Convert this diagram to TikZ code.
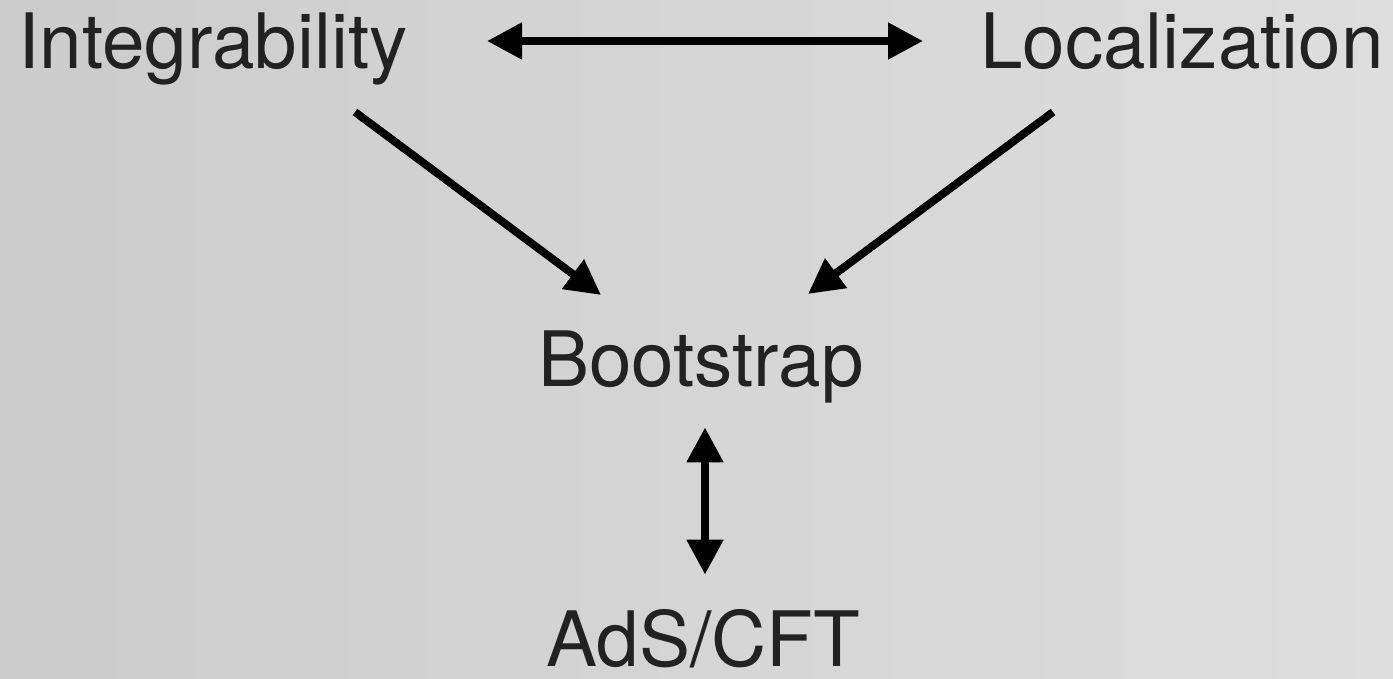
\documentclass[tikz,border=0pt]{standalone}
\usepackage{fontspec}
\setmainfont{TeX Gyre Heros}
\usetikzlibrary{arrows.meta}
\definecolor{BgLight}{RGB}{222,222,222}
\definecolor{BgDark}{RGB}{204,204,204}
\definecolor{InkGray}{RGB}{34,34,34}
\tikzset{
  topic/.style={font=\fontsize{43.5}{50}\selectfont,text=InkGray,
    inner sep=0pt,text height=1.08cm,text depth=0pt},
  arrow/.style={-{Triangle[length=0.7cm,width=0.7cm]},line width=4.5pt,black},
  twoway/.style={{Triangle[length=0.7cm,width=0.7cm]}-{Triangle[length=0.7cm,width=0.7cm]},
    line width=4.5pt,black}
}
\begin{document}
\begin{tikzpicture}
          \shade[left color=BgDark,right color=BgLight] (0,0) rectangle (27.86,-13.56);
          \useasboundingbox (0,0) rectangle (27.86,-13.56);
          \node[topic] (int) at (4.26,-0.82) {Integrability};
          \node[topic] (loc) at (23.64,-0.82) {Localization};
          \node[topic] (boot) at (14.02,-7.18) {Bootstrap};
          \node[topic] (ads) at (14.06,-12.78) {AdS/CFT};
          \draw[twoway,shorten <=5.48cm,shorten >=5.18cm] (int.center) -- (loc.center);
          \draw[arrow] ([shift={(2.84,-1.42)}]int.center) -- ([shift={(-2.0,1.28)}]boot.center);
          \draw[arrow] ([shift={(-2.58,-1.42)}]loc.center) -- ([shift={(2.14,1.30)}]boot.center);
          \draw[twoway,shorten <=0.82cm,shorten >=0.74cm]
            ([xshift=0.08cm]boot.south) -- ([xshift=0.04cm]ads.north);
        \end{tikzpicture}
\end{document}
